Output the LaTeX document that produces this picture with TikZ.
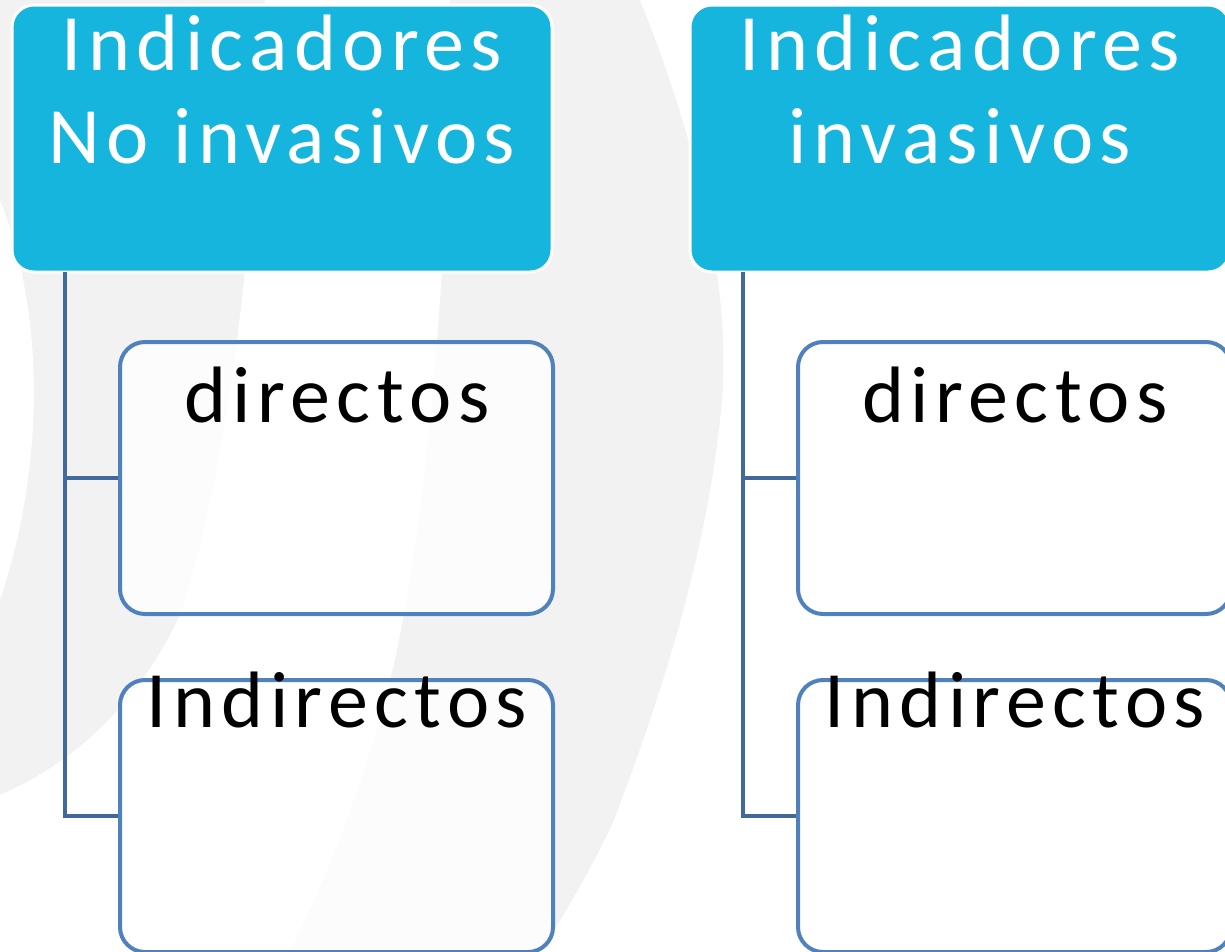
\documentclass[tikz,border=0pt]{standalone}
\usepackage{fontspec}
\setmainfont{Carlito}
\newfontfamily\widefont[LetterSpace=8]{Carlito}
\usetikzlibrary{positioning}
\definecolor{headblue}{HTML}{15B5DD}
\definecolor{boxline}{HTML}{4F81BD}
\definecolor{stemline}{HTML}{41699C}
\definecolor{swirl}{HTML}{F2F2F2}
\tikzset{
    headbox/.style={draw=white, line width=3pt, fill=headblue, rounded corners=22pt,
        minimum width=540pt, minimum height=267pt, inner sep=0pt},
    subbox/.style={draw=boxline, line width=4pt, fill=white, fill opacity=0.8,
        rounded corners=25pt, minimum width=433pt, minimum height=272pt, inner sep=0pt},
    conn/.style={draw=stemline, line width=4.5pt},
    headtxt/.style={text=white, font=\widefont\fontsize{80}{93}\selectfont,
        align=center, inner sep=0pt},
    subtxt/.style={text=black, font=\widefont\fontsize{80}{93}\selectfont, inner sep=0pt}
}
\newcommand{\indcolumn}[3]{
    \node[headbox] (#1) at (282+#2,138.5) {};
    \node[headtxt, anchor=base] (#1txt) at (282+#2,163) {#3};
    \node[subbox] (#1dir) at (336.5+#2,478) {};
    \node[subbox] (#1ind) at (336.5+#2,816) {};
    \coordinate (#1stem) at (65+#2,272);
    \draw[conn] (#1stem) |- (#1dir.west);
    \draw[conn] (#1stem) |- (#1ind.west);
    \node[subtxt, anchor=base] (#1dirtxt) at (337+#2,422) {directos};
    \node[subtxt, anchor=base] (#1indtxt) at (337+#2,727) {Indirectos};
}

\begin{document}
\begin{tikzpicture}[x=1pt,y=-1pt]
\clip (0,0) rectangle (1225,951);
% background swirl
\fill[swirl] (0,0) -- (640,0) .. controls (700,150) and (735,300) .. (720,420)
    .. controls (705,560) and (660,700) .. (612,825)
    .. controls (590,870) and (565,915) .. (540,951) -- (0,951) -- cycle;
\fill[white] (265,0) .. controls (255,200) and (235,450) .. (180,615)
    .. controls (140,700) and (80,760) .. (0,795) -- (0,951) -- (290,951)
    .. controls (320,890) and (360,800) .. (390,680)
    .. controls (420,560) and (450,300) .. (450,0) -- cycle;
\fill[white] (0,200) .. controls (40,300) and (50,450) .. (0,600) -- cycle;
% the two columns
\indcolumn{noinv}{0}{Indicadores\\No invasivos}
\indcolumn{inv}{678}{Indicadores\\invasivos}
\end{tikzpicture}
\end{document}
